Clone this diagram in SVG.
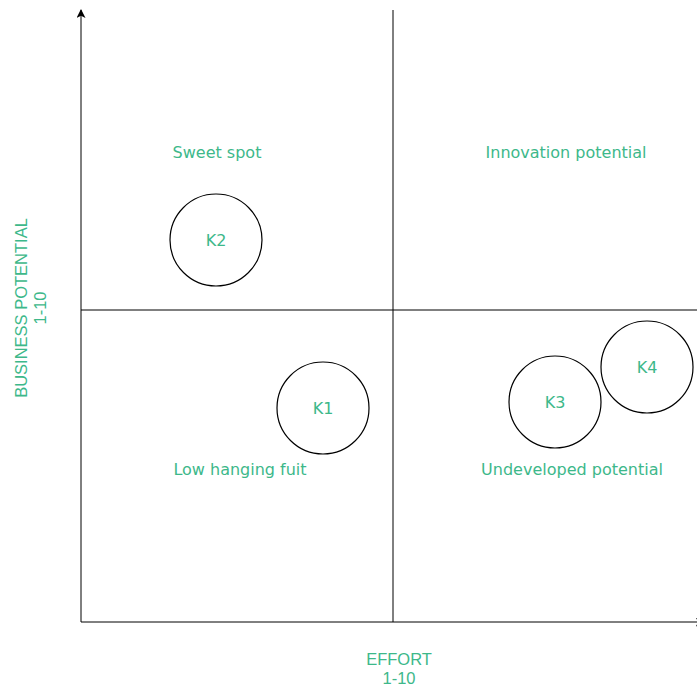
<svg xmlns="http://www.w3.org/2000/svg" width="697" height="686" viewBox="0 0 697 686">
  <style>
    .axis { stroke: #000; stroke-width: 1; fill: none; }
    .node circle { fill: #fff; stroke: #000; stroke-width: 1.2; }
    .lbl { font-family: "DejaVu Sans", Verdana, sans-serif; font-size: 16px; fill: #3db88a; text-anchor: middle; }
    .ax { font-family: "Liberation Sans", Arial, sans-serif; font-size: 16.5px; fill: #3db88a; text-anchor: middle; }
  </style>
  <defs>
    <marker id="arrow" viewBox="0 0 10 10" refX="9" refY="5" markerWidth="10" markerHeight="9" markerUnits="userSpaceOnUse" orient="auto">
      <path d="M0,0 L10,5 L0,10 L2.5,5 Z" fill="#000"/>
    </marker>
  </defs>
  <rect width="697" height="686" fill="#fff"/>

  <g id="connectors">
    <line class="axis" x1="81" y1="622" x2="81" y2="10" marker-end="url(#arrow)"/>
    <line class="axis" x1="81" y1="622" x2="704" y2="622" marker-end="url(#arrow)"/>
    <line class="axis" x1="393" y1="10" x2="393" y2="622"/>
    <line class="axis" x1="81" y1="310" x2="697" y2="310"/>
  </g>

  <g id="quadrant-labels">
    <text class="lbl" x="217" y="158">Sweet spot</text>
    <text class="lbl" x="566" y="158">Innovation potential</text>
    <text class="lbl" x="240" y="475">Low hanging fuit</text>
    <text class="lbl" x="572" y="475">Undeveloped potential</text>
  </g>

  <g id="axis-labels">
    <text class="ax" x="399" y="665">EFFORT</text>
    <text class="ax" x="399" y="684">1-10</text>
    <text class="ax" transform="translate(27,308) rotate(-90)">BUSINESS POTENTIAL</text>
    <text class="ax" transform="translate(46,308) rotate(-90)">1-10</text>
  </g>

  <g id="k1" class="node"><circle cx="323" cy="408" r="46"/><text class="lbl" x="323" y="414">K1</text></g>
  <g id="k2" class="node"><circle cx="216" cy="240" r="46"/><text class="lbl" x="216" y="246">K2</text></g>
  <g id="k3" class="node"><circle cx="555" cy="402" r="46"/><text class="lbl" x="555" y="408">K3</text></g>
  <g id="k4" class="node"><circle cx="647" cy="367" r="46"/><text class="lbl" x="647" y="373">K4</text></g>
</svg>
